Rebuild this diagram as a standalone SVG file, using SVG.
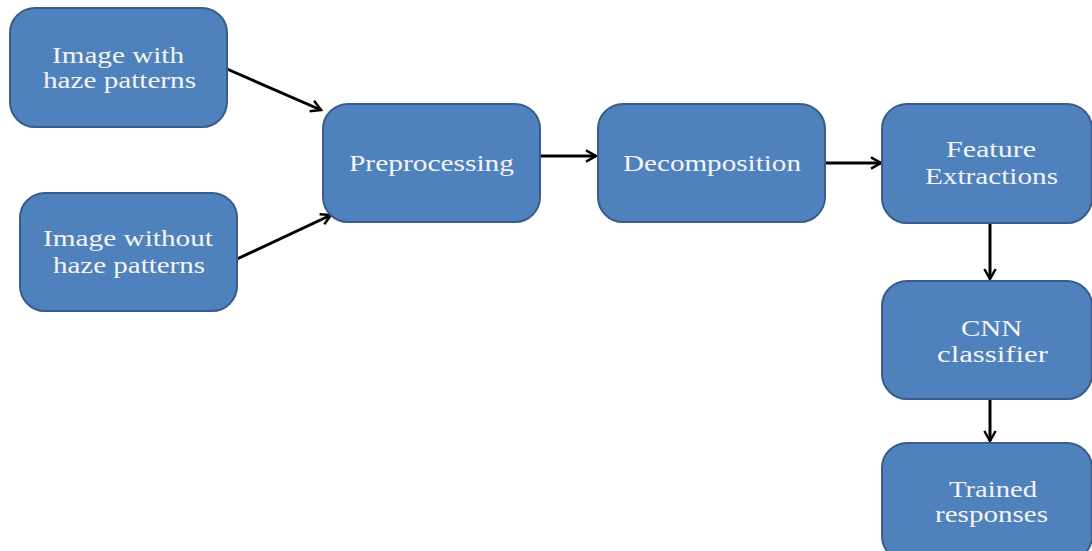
<svg xmlns="http://www.w3.org/2000/svg" width="1092" height="551" viewBox="0 0 1092 551">
<defs>
<style>
.box{fill:#4F81BD;stroke:#385D8A;stroke-width:2}
.lbl{font-family:"Liberation Serif","Times New Roman",serif;font-size:23px;fill:#F4F4F4;text-anchor:middle}
.con{stroke:#000;stroke-width:3;fill:none;marker-end:url(#arr)}
</style>
<marker id="arr" viewBox="0 0 12 12" refX="10" refY="6" markerWidth="5" markerHeight="5" orient="auto" markerUnits="strokeWidth">
<polyline points="2,1.5 10,6 2,10.5" fill="none" stroke="#000" stroke-width="2"/>
</marker>
</defs>
<rect width="1092" height="551" fill="#ffffff"/>
<g id="connectors">
<line class="con" x1="227" y1="69" x2="321" y2="110"/>
<line class="con" x1="237" y1="259" x2="331" y2="215"/>
<line class="con" x1="540" y1="156" x2="596" y2="156"/>
<line class="con" x1="825" y1="163" x2="881" y2="163"/>
<line class="con" x1="990" y1="223" x2="990" y2="279"/>
<line class="con" x1="990" y1="399" x2="990" y2="441"/>
</g>
<g id="n1"><rect class="box" x="10" y="8" width="217" height="119" rx="25"/>
<text class="lbl" x="118" y="63" textLength="132" lengthAdjust="spacingAndGlyphs">Image with</text><text class="lbl" x="119.5" y="88" textLength="153" lengthAdjust="spacingAndGlyphs">haze patterns</text></g>
<g id="n2"><rect class="box" x="20" y="193" width="217" height="118" rx="25"/>
<text class="lbl" x="128" y="246" textLength="170" lengthAdjust="spacingAndGlyphs">Image without</text><text class="lbl" x="129" y="273" textLength="152" lengthAdjust="spacingAndGlyphs">haze patterns</text></g>
<g id="n3"><rect class="box" x="323" y="104" width="217" height="118" rx="25"/>
<text class="lbl" x="431.5" y="171" textLength="165" lengthAdjust="spacingAndGlyphs">Preprocessing</text></g>
<g id="n4"><rect class="box" x="598" y="104" width="227" height="118" rx="25"/>
<text class="lbl" x="712" y="171" textLength="178" lengthAdjust="spacingAndGlyphs">Decomposition</text></g>
<g id="n5"><rect class="box" x="882" y="104" width="210" height="119" rx="25"/>
<text class="lbl" x="991" y="157" textLength="90" lengthAdjust="spacingAndGlyphs">Feature</text><text class="lbl" x="991.5" y="184" textLength="133" lengthAdjust="spacingAndGlyphs">Extractions</text></g>
<g id="n6"><rect class="box" x="882" y="281" width="210" height="118" rx="25"/>
<text class="lbl" x="991.5" y="336" textLength="61" lengthAdjust="spacingAndGlyphs">CNN</text><text class="lbl" x="992.5" y="362" textLength="111" lengthAdjust="spacingAndGlyphs">classifier</text></g>
<g id="n7"><rect class="box" x="882" y="443" width="210" height="118" rx="25"/>
<text class="lbl" x="993" y="497" textLength="88" lengthAdjust="spacingAndGlyphs">Trained</text><text class="lbl" x="991.5" y="522" textLength="113" lengthAdjust="spacingAndGlyphs">responses</text></g>
</svg>
